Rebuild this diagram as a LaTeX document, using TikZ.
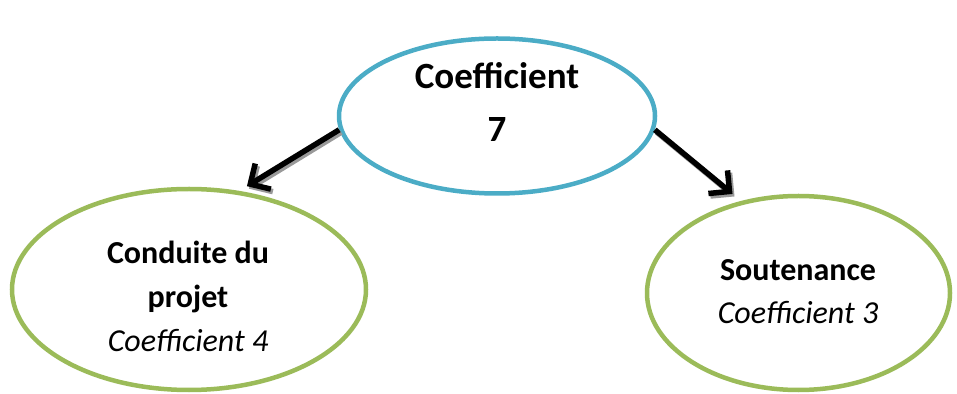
\documentclass[tikz,border=0pt]{standalone}
\usepackage{fontspec}
\setmainfont{Carlito}
\usepackage{tikz}
\usetikzlibrary{arrows.meta,shapes}
\usepackage{xcolor}
\definecolor{ellblue}{HTML}{4BACC6}
\definecolor{ellgreen}{HTML}{9BBB59}

\begin{document}
\begin{tikzpicture}[x=1pt,y=1pt,
    ell/.style={ellipse,draw=#1,line width=4.5pt,inner sep=0pt},
    arr/.style={line width=5.5pt,-{Straight Barb[length=15pt,width=30pt]}},
    arrshade/.style={arr,draw=black!40,transform canvas={shift={(2pt,-2.5pt)}}}]
    \useasboundingbox (0,0) rectangle (957,393);
    \node [ell=ellblue,minimum width=316pt,minimum height=155pt] (0) at (497,277) {};
    \node [ell=ellgreen,minimum width=354pt,minimum height=201pt] (1) at (189,103.5) {};
    \node [ell=ellgreen,minimum width=303pt,minimum height=194pt] (2) at (798.5,100) {};
    \node [font=\fontsize{37}{53}\selectfont\bfseries,align=center] (0t) at (497,291) {Coefficient\\7};
    \node [font=\fontsize{32}{44}\selectfont,align=center] (1t) at (188,97) {\textbf{Conduite du}\\\textbf{projet}\\\textit{Coefficient 4}};
    \node [font=\fontsize{32}{43}\selectfont,align=center] (2t) at (798,101.5) {\textbf{Soutenance}\\\textit{Coefficient 3}};
    \draw [arrshade,shorten >=9pt] (0.185) -- (1.63);
    \draw [arrshade,shorten >=11pt] (0.355) -- (2.122);
    \draw [arr,shorten >=9pt] (0.185) -- (1.63);
    \draw [arr,shorten >=11pt] (0.355) -- (2.122);
\end{tikzpicture}
\end{document}
